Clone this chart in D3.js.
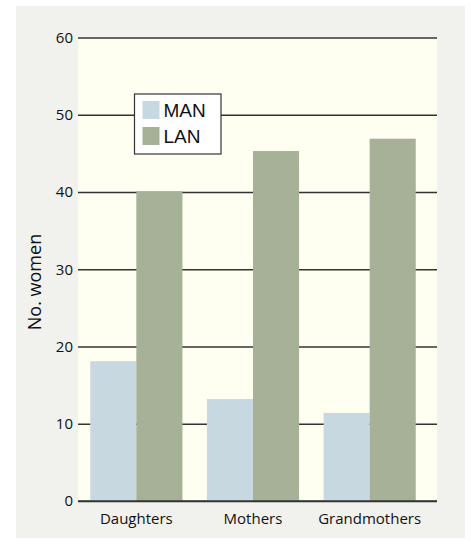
<!DOCTYPE html>
<html>
<head>
<meta charset="utf-8">
<script src="https://cdn.jsdelivr.net/npm/d3@7"></script>
<style>
  body { margin: 0; background: #fff; }
  svg { display: block; font-family: "Open Sans", "DejaVu Sans", sans-serif; }
</style>
</head>
<body>
<svg id="chart" width="471" height="548"></svg>
<script>
// data
const categories = ["Daughters", "Mothers", "Grandmothers"];
const seriesNames = ["MAN", "LAN"];
const manValues = [18.1, 13.2, 11.4];
const lanValues = [40.1, 45.3, 46.9];
const yTicks = [0, 10, 20, 30, 40, 50, 60];
const yLabel = "No. women";

const colors = { MAN: "#c8d8e0", LAN: "#a6b198" };

const svg = d3.select("#chart");

// outer panel
svg.append("rect")
  .attr("x", 16).attr("y", 6)
  .attr("width", 449).attr("height", 532)
  .attr("fill", "#f1f2ee");

const plot = { left: 78, right: 437, top: 37.5, bottom: 501 };

const y = d3.scaleLinear().domain([0, 60]).range([plot.bottom, plot.top]);
const x = d3.scaleBand().domain(categories)
  .range([78, 428]).paddingInner(0.21).paddingOuter(0.105);
const xs = d3.scaleBand().domain(seriesNames).range([0, x.bandwidth()]);

// plot background
svg.append("rect")
  .attr("x", plot.left).attr("y", plot.top)
  .attr("width", plot.right - plot.left).attr("height", plot.bottom - plot.top)
  .attr("fill", "#fefff0");

// gridlines + labels via axis
const yAxis = d3.axisLeft(y).tickValues(yTicks)
  .tickSize(-(plot.right - plot.left)).tickPadding(5);
const gy = svg.append("g")
  .attr("transform", "translate(" + plot.left + ",0)")
  .call(yAxis);
gy.select(".domain").remove();
gy.selectAll(".tick line").attr("stroke", "#333").attr("stroke-width", 1.5);
gy.selectAll(".tick text").attr("font-size", 15).attr("fill", "#111")
  .attr("font-family", "Open Sans, DejaVu Sans, sans-serif");

// bars
const rows = categories.map((c, i) => ({ cat: c, MAN: manValues[i], LAN: lanValues[i] }));
const groups = svg.append("g").selectAll("g")
  .data(rows).join("g")
  .attr("transform", d => "translate(" + x(d.cat) + ",0)");
groups.selectAll("rect")
  .data(d => seriesNames.map(s => ({ s: s, v: d[s] })))
  .join("rect")
  .attr("x", d => xs(d.s))
  .attr("width", xs.bandwidth())
  .attr("y", d => y(d.v))
  .attr("height", d => y(0) - y(d.v))
  .attr("fill", d => colors[d.s]);

// baseline redraw on top
svg.append("line")
  .attr("x1", plot.left).attr("x2", plot.right)
  .attr("y1", y(0)).attr("y2", y(0))
  .attr("stroke", "#333").attr("stroke-width", 1.5);

// category labels
svg.append("g").selectAll("text")
  .data(categories).join("text")
  .attr("x", d => x(d) + x.bandwidth() / 2)
  .attr("y", 524)
  .attr("text-anchor", "middle")
  .attr("font-size", 15)
  .attr("fill", "#111")
  .text(d => d);

// y label
svg.append("text")
  .attr("transform", "translate(41,282) rotate(-90)")
  .attr("text-anchor", "middle")
  .attr("font-size", 18)
  .attr("fill", "#111")
  .text(yLabel);

// legend
const legend = svg.append("g").attr("transform", "translate(134.5,94)");
legend.append("rect")
  .attr("width", 86.5).attr("height", 60)
  .attr("fill", "#fff").attr("stroke", "#333").attr("stroke-width", 1.2);
const li = legend.selectAll("g.item")
  .data(seriesNames).join("g")
  .attr("transform", (d, i) => "translate(8," + (7 + i * 26) + ")");
li.append("rect").attr("width", 17).attr("height", 18).attr("fill", d => colors[d]);
li.append("text")
  .attr("x", 21).attr("y", 16)
  .attr("font-family", "Liberation Sans, Arial, sans-serif")
  .attr("font-size", 19)
  .attr("fill", "#111")
  .text(d => d);
</script>
</body>
</html>
